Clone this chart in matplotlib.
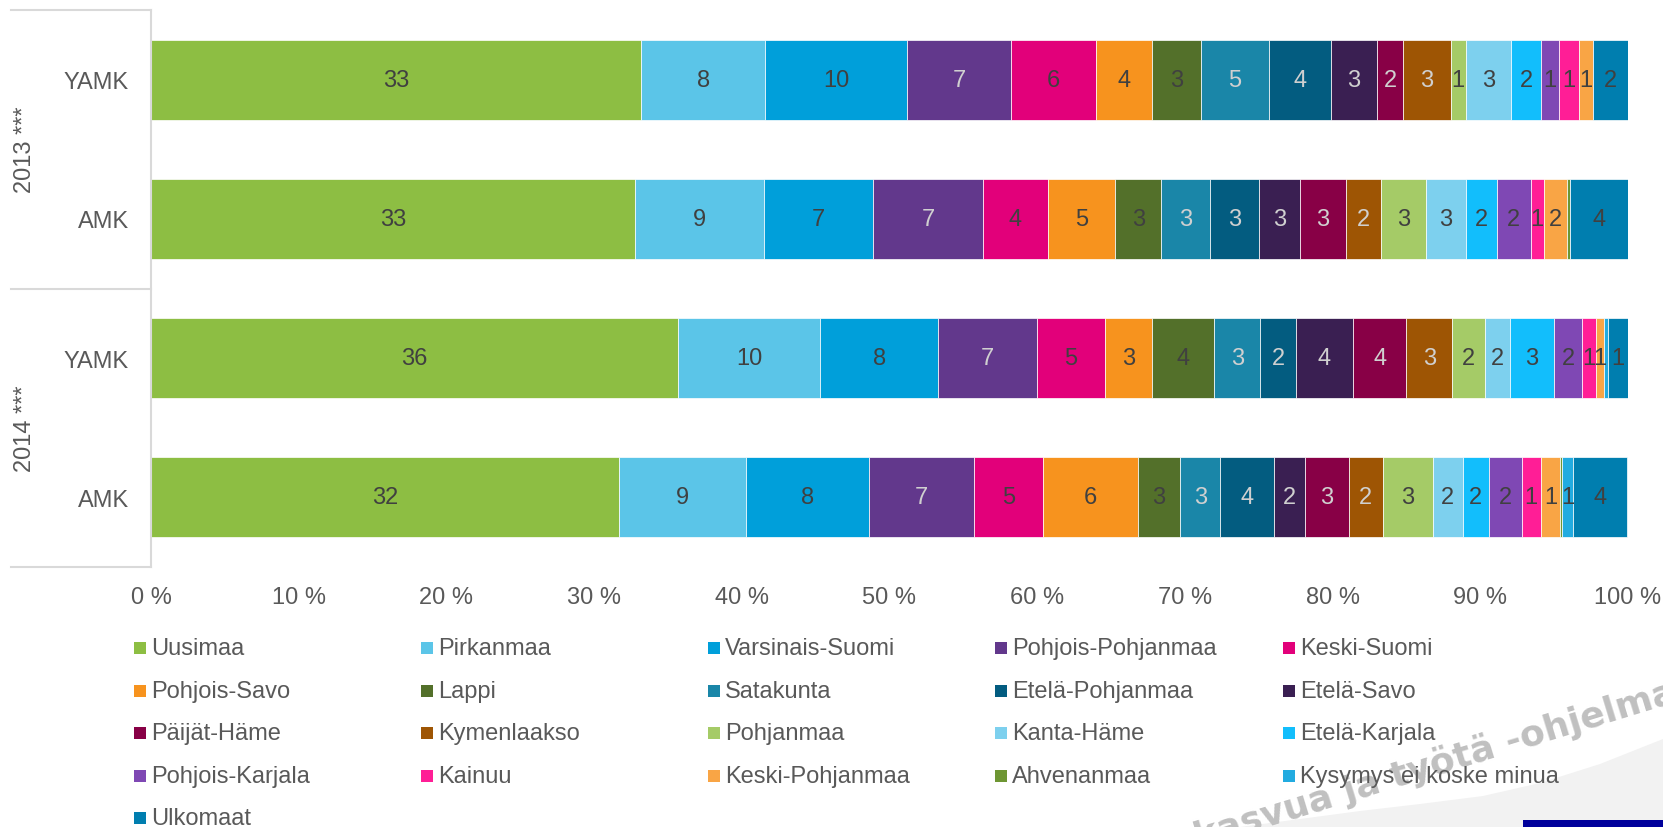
import matplotlib
matplotlib.use("Agg")
import matplotlib.pyplot as plt
import matplotlib.transforms as mtransforms
from matplotlib.patches import Rectangle, Polygon
from matplotlib.lines import Line2D
import numpy as np

plt.rcParams['font.family'] = ['Liberation Sans', 'DejaVu Sans']

# ---- data ----
bar_labels = ["YAMK", "AMK", "YAMK", "AMK"]
group_labels = ["2013 ***", "2014 ***"]
regions = ["Uusimaa", "Pirkanmaa", "Varsinais-Suomi", "Pohjois-Pohjanmaa", "Keski-Suomi",
           "Pohjois-Savo", "Lappi", "Satakunta", "Etelä-Pohjanmaa", "Etelä-Savo",
           "Päijät-Häme", "Kymenlaakso", "Pohjanmaa", "Kanta-Häme", "Etelä-Karjala",
           "Pohjois-Karjala", "Kainuu", "Keski-Pohjanmaa", "Ahvenanmaa",
           "Kysymys ei koske minua", "Ulkomaat"]
# order of bars: 2013 YAMK, 2013 AMK, 2014 YAMK, 2014 AMK
uusimaa       = [33.2, 32.8, 35.7, 31.7]
pirkanmaa     = [8.4, 8.7, 9.6, 8.6]
varsinais     = [9.6, 7.4, 8.0, 8.3]
pohj_pohjanm  = [7.0, 7.4, 6.7, 7.1]
keski_suomi   = [5.8, 4.4, 4.6, 4.7]
pohjois_savo  = [3.8, 4.6, 3.2, 6.4]
lappi         = [3.3, 3.1, 4.2, 2.9]
satakunta     = [4.6, 3.3, 3.1, 2.7]
etela_pohjanm = [4.2, 3.3, 2.4, 3.6]
etela_savo    = [3.1, 2.8, 3.9, 2.1]
paijat_hame   = [1.8, 3.1, 3.6, 3.0]
kymenlaakso   = [3.2, 2.4, 3.1, 2.3]
pohjanmaa     = [1.0, 3.0, 2.2, 3.4]
kanta_hame    = [3.1, 2.7, 1.7, 2.0]
etela_karjala = [2.0, 2.1, 3.0, 1.8]
pohj_karjala  = [1.2, 2.3, 1.9, 2.2]
kainuu        = [1.4, 0.9, 0.9, 1.3]
keski_pohjanm = [0.9, 1.6, 0.6, 1.3]
ahvenanmaa    = [0.0, 0.2, 0.0, 0.15]
kysymys       = [0.0, 0.0, 0.25, 0.7]
ulkomaat      = [2.4, 3.9, 1.35, 3.7]

series = [uusimaa, pirkanmaa, varsinais, pohj_pohjanm, keski_suomi, pohjois_savo, lappi,
          satakunta, etela_pohjanm, etela_savo, paijat_hame, kymenlaakso, pohjanmaa,
          kanta_hame, etela_karjala, pohj_karjala, kainuu, keski_pohjanm, ahvenanmaa,
          kysymys, ulkomaat]

colors = ["#8DBE43", "#5BC5E8", "#009FDA", "#62388C", "#E2007A",
          "#F7931E", "#53702A", "#1A86A8", "#035C80", "#3A1F52",
          "#880046", "#9E5504", "#A5CB67", "#7DD0EE", "#12BEFC",
          "#7F48B4", "#FF1E96", "#F9A545", "#6E9633", "#22ABE0", "#007EAF"]
light_label = {"Pohjois-Pohjanmaa", "Satakunta", "Etelä-Pohjanmaa", "Etelä-Savo",
               "Päijät-Häme", "Kymenlaakso"}

W, H = 1663, 828
fig = plt.figure(figsize=(W / 100, H / 100), dpi=100)
ax_left, ax_right, ax_top, ax_bot = 151, 1628, 11, 568
ax = fig.add_axes([ax_left / W, 1 - ax_bot / H, (ax_right - ax_left) / W, (ax_bot - ax_top) / H])

txt_col = "#595959"
y = np.arange(len(bar_labels))
left = np.zeros(len(bar_labels))
for name, vals, col in zip(regions, series, colors):
    vals = np.array(vals)
    ax.barh(y, vals, left=left, height=0.575, color=col, edgecolor="white", linewidth=0.5)
    lc = "#D0D0D0" if name in light_label else "#404040"
    for yi, v, l in zip(y, vals, left):
        if v >= 0.5:
            ax.text(l + v / 2, yi, f"{round(v)}", ha="center", va="center",
                    fontsize=17, color=lc)
    left += vals

ax.set_xlim(0, 100)
ax.set_ylim(3.5, -0.5)
ax.set_xticks(np.arange(0, 101, 10))
ax.set_xticklabels([f"{t} %" for t in range(0, 101, 10)])
ax.set_yticks(y)
ax.set_yticklabels(bar_labels)
ax.tick_params(axis="both", length=0, labelsize=17, labelcolor=txt_col)
ax.tick_params(axis="x", pad=14)
ax.tick_params(axis="y", pad=16)
for s in ["top", "right", "bottom"]:
    ax.spines[s].set_visible(False)
ax.spines["left"].set_color("#D9D9D9")
ax.spines["left"].set_linewidth(1.5)

# group separators and labels
trans = mtransforms.blended_transform_factory(fig.transFigure, ax.transData)
for yy in [-0.5, 1.5, 3.5]:
    ax.add_line(Line2D([11 / W, ax_left / W], [yy, yy], transform=trans, color="#D9D9D9",
                       lw=1.5, clip_on=False))
for gi, g in enumerate(group_labels):
    ax.text(25 / W, 0.5 + 2 * gi, g, transform=trans, rotation=90, ha="center", va="center",
            fontsize=17, color=txt_col)

# background decoration (slide watermark), drawn beneath the legend
curve_x = np.array([1240, 1300, 1360, 1420, 1483, 1540, 1600, 1663, 1663])
curve_y = np.array([828, 820, 812, 805, 797, 784, 765, 740, 828])
fig.patches.append(Polygon(np.column_stack([curve_x / W, 1 - curve_y / H]),
                           closed=True, transform=fig.transFigure, facecolor="#F2F2F2",
                           edgecolor="none", zorder=0))
fig.text(1198 / W, -20 / H, "kasvua ja työtä -ohjelma", rotation=17, rotation_mode="anchor",
         ha="left", va="baseline", fontsize=26, fontweight="bold", color="#C0C0C0",
         family="DejaVu Sans", zorder=0.5)
fig.patches.append(Rectangle((1523 / W, 0), 140 / W, 7 / H, transform=fig.transFigure,
                             facecolor="#00009B", edgecolor="none", zorder=2))

# legend (row-major, 5 columns)
col_x = [134, 421, 708, 995, 1283]
row_y = [649, 692, 734, 777, 819]
for i, (name, col) in enumerate(zip(regions, colors)):
    cx = col_x[i % 5]
    cy = row_y[i // 5]
    fig.patches.append(Rectangle((cx / W, 1 - (cy + 6) / H), 12 / W, 12 / H,
                                 transform=fig.transFigure, facecolor=col, edgecolor="none",
                                 zorder=3))
    fig.text((cx + 17) / W, 1 - cy / H, name, ha="left", va="center", fontsize=17,
             color=txt_col, zorder=3)

fig.savefig("out.png", dpi=100)
